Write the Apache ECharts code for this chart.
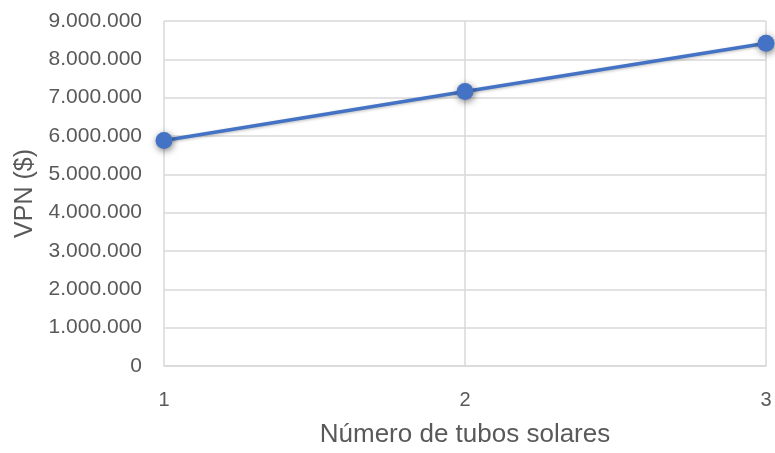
<!DOCTYPE html>
<html><head><meta charset="utf-8">
<script src="https://cdn.jsdelivr.net/npm/echarts@6/dist/echarts.min.js"></script>
<style>html,body{margin:0;padding:0;background:#fff}#c{width:775px;height:453px}</style>
</head><body><div id="c"></div>
<script>
const tubos = [1, 2, 3];
const vpn = [5880000, 7160000, 8420000];
const xName = 'Número de tubos solares';
const yName = 'VPN ($)';

function fmt(v){ return String(Math.round(v)).replace(/\B(?=(\d{3})+(?!\d))/g, '.'); }

const FF = 'Liberation Sans';
const chart = echarts.init(document.getElementById('c'), null, {renderer:'canvas'});
chart.setOption({
  animation:false,
  grid:{left:164, right:9, top:21, bottom:86, containLabel:false},
  xAxis:{type:'value', min:1, max:3, interval:1,
    name:xName, nameLocation:'middle', nameGap:56,
    nameTextStyle:{color:'#595959', fontSize:26, fontFamily:FF},
    axisLine:{show:true, lineStyle:{color:'#d9d9d9', width:1.5}},
    axisTick:{show:false},
    axisLabel:{color:'#595959', fontSize:20, margin:24, fontFamily:FF},
    splitLine:{show:true, lineStyle:{color:'#d9d9d9', width:1.5}}},
  yAxis:{type:'value', min:0, max:9000000, interval:1000000,
    name:yName, nameLocation:'middle', nameGap:126,
    nameTextStyle:{color:'#595959', fontSize:25, fontFamily:FF},
    axisLine:{show:false}, axisTick:{show:false},
    axisLabel:{color:'#595959', fontSize:21, margin:22, fontFamily:FF, formatter:fmt},
    splitLine:{show:true, lineStyle:{color:'#d9d9d9', width:1.5}}},
  series:[{type:'line', data:tubos.map((t,i)=>[t, vpn[i]]),
    symbol:'circle', symbolSize:17,
    lineStyle:{color:'#4472c4', width:3.5, shadowBlur:3, shadowColor:'rgba(0,0,0,0.25)', shadowOffsetX:1, shadowOffsetY:1},
    itemStyle:{color:'#4472c4', shadowBlur:7, shadowColor:'rgba(0,0,0,0.5)', shadowOffsetX:1, shadowOffsetY:2},
    clip:false}]
});
</script></body></html>
